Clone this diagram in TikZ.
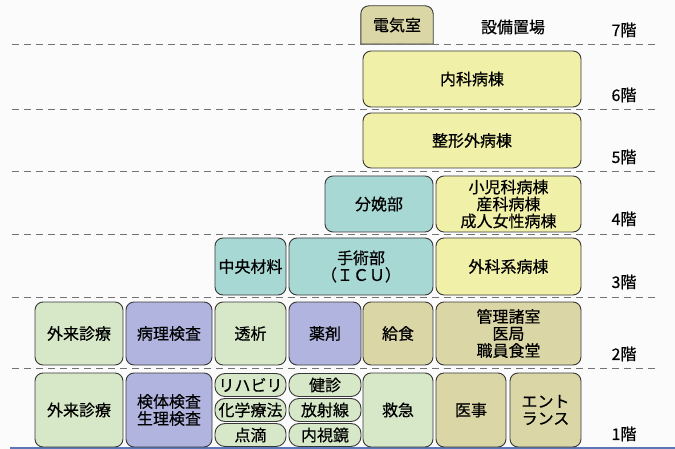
\documentclass[tikz,border=0pt]{standalone}
\usepackage{fontspec}
\newfontfamily\jpfont[FakeBold=0.5]{Noto Sans CJK JP}
\usetikzlibrary{backgrounds}
\definecolor{greenbox}{HTML}{D6E8C8}
\definecolor{purplebox}{HTML}{B0B4DE}
\definecolor{tealbox}{HTML}{A8D8D4}
\definecolor{yellowbox}{HTML}{F0F0A8}
\definecolor{khakibox}{HTML}{DAD6A6}
\definecolor{boxline}{HTML}{383838}
\definecolor{groundline}{HTML}{5A78B8}
\begin{document}
\begin{tikzpicture}[x=1pt,y=-1pt,
    room/.style={draw=boxline,line width=0.9pt,rounded corners=8pt,inner sep=0pt,
                 align=center,font=\jpfont\fontsize{16}{17}\selectfont},
    pill/.style={room,rounded corners=10pt,minimum width=71pt,minimum height=23pt},
    floor label/.style={font=\jpfont\fontsize{16}{17}\selectfont},
    floor line/.style={dash pattern=on 7pt off 5pt,gray!90!black,line width=0.8pt}]

  \useasboundingbox (0,0) rectangle (675,449);
  \begin{scope}[on background layer]
    \fill[white!97!gray] (0,0) rectangle (675,449);
  \end{scope}

  % floor lines
  \draw[floor line] (12,44) -- (655,44);
  \draw[floor line] (12,109) -- (655,109);
  \draw[floor line] (12,171) -- (655,171);
  \draw[floor line] (12,234) -- (655,234);
  \draw[floor line] (12,297) -- (655,297);
  \draw[floor line] (12,368) -- (655,368);
  \draw[groundline,line width=1.5pt] (10,448) -- (675,448);

  % floor numbers
  \node[floor label] (f7) at (624,30) {7階};
  \node[floor label] (f6) at (624,95) {6階};
  \node[floor label] (f5) at (624,157) {5階};
  \node[floor label] (f4) at (624,219) {4階};
  \node[floor label] (f3) at (624,282) {3階};
  \node[floor label] (f2) at (624,354) {2階};
  \node[floor label] (f1) at (624,434) {1階};

  % 7F
  \node[floor label,minimum width=72pt,minimum height=38pt] (denki) at (397,25) {電気室};
  \begin{scope}[on background layer]
    \draw[draw=boxline,line width=0.9pt,fill=khakibox] (denki.south west)
      [rounded corners=8pt] -- (denki.north west) -- (denki.north east)
      [sharp corners] -- (denki.south east) -- cycle;
  \end{scope}
  \node[floor label] (setsubi) at (513,27) {設備置場};

  % 6F, 5F
  \node[room,fill=yellowbox,minimum width=218pt,minimum height=56pt] (naika) at (472,79) {内科病棟};
  \node[room,fill=yellowbox,minimum width=218pt,minimum height=55pt] (seikei) at (472,140.5) {整形外病棟};

  % 4F
  \node[room,fill=tealbox,minimum width=108pt,minimum height=56pt] (bunben) at (379,204) {分娩部};
  \node[room,fill=yellowbox,minimum width=145pt,minimum height=56pt] (shoni) at (508.5,204)
    {小児科病棟\\産科病棟\\成人女性病棟};

  % 3F
  \node[room,fill=tealbox,minimum width=71pt,minimum height=57pt] (zairyo) at (250.5,266.5) {中央材料};
  \node[room,fill=tealbox,minimum width=144pt,minimum height=57pt] (shujutsu) at (361,266.5)
    {手術部\\（ＩＣＵ）};
  \node[room,fill=yellowbox,minimum width=145pt,minimum height=57pt] (geka) at (508.5,266.5) {外科系病棟};

  % 2F
  \node[room,fill=greenbox,minimum width=88pt,minimum height=63pt] (gairai2) at (79,333.5) {外来診療};
  \node[room,fill=purplebox,minimum width=86pt,minimum height=63pt] (byori) at (169,333.5) {病理検査};
  \node[room,fill=greenbox,minimum width=71pt,minimum height=63pt] (toseki) at (250.5,333.5) {透析};
  \node[room,fill=purplebox,minimum width=72pt,minimum height=63pt] (yakuzai) at (325,333.5) {薬剤};
  \node[room,fill=khakibox,minimum width=70pt,minimum height=63pt] (kyushoku) at (398,333.5) {給食};
  \node[room,fill=khakibox,minimum width=145pt,minimum height=63pt] (kanri) at (508.5,333.5)
    {管理諸室\\医局\\職員食堂};

  % 1F
  \node[room,fill=greenbox,minimum width=88pt,minimum height=74pt] (gairai1) at (79,410) {外来診療};
  \node[room,fill=purplebox,minimum width=86pt,minimum height=74pt] (kentai) at (169,410)
    {検体検査\\生理検査};
  \node[pill,fill=greenbox] (riha) at (250.5,385) {リハビリ};
  \node[pill,fill=greenbox] (kagaku) at (250.5,410) {化学療法};
  \node[pill,fill=greenbox] (tenteki) at (250.5,435) {点滴};
  \node[pill,fill=greenbox,minimum width=72pt] (kenshin) at (325,385) {健診};
  \node[pill,fill=greenbox,minimum width=72pt] (hoshasen) at (325,410) {放射線};
  \node[pill,fill=greenbox,minimum width=72pt] (naishi) at (325,435) {内視鏡};
  \node[room,fill=greenbox,minimum width=70pt,minimum height=74pt] (kyukyu) at (398,410) {救急};
  \node[room,fill=khakibox,minimum width=70pt,minimum height=74pt] (iji) at (471,410) {医事};
  \node[room,fill=khakibox,minimum width=71pt,minimum height=74pt] (entrance) at (545.5,410)
    {エント\\ランス};
\end{tikzpicture}
\end{document}
